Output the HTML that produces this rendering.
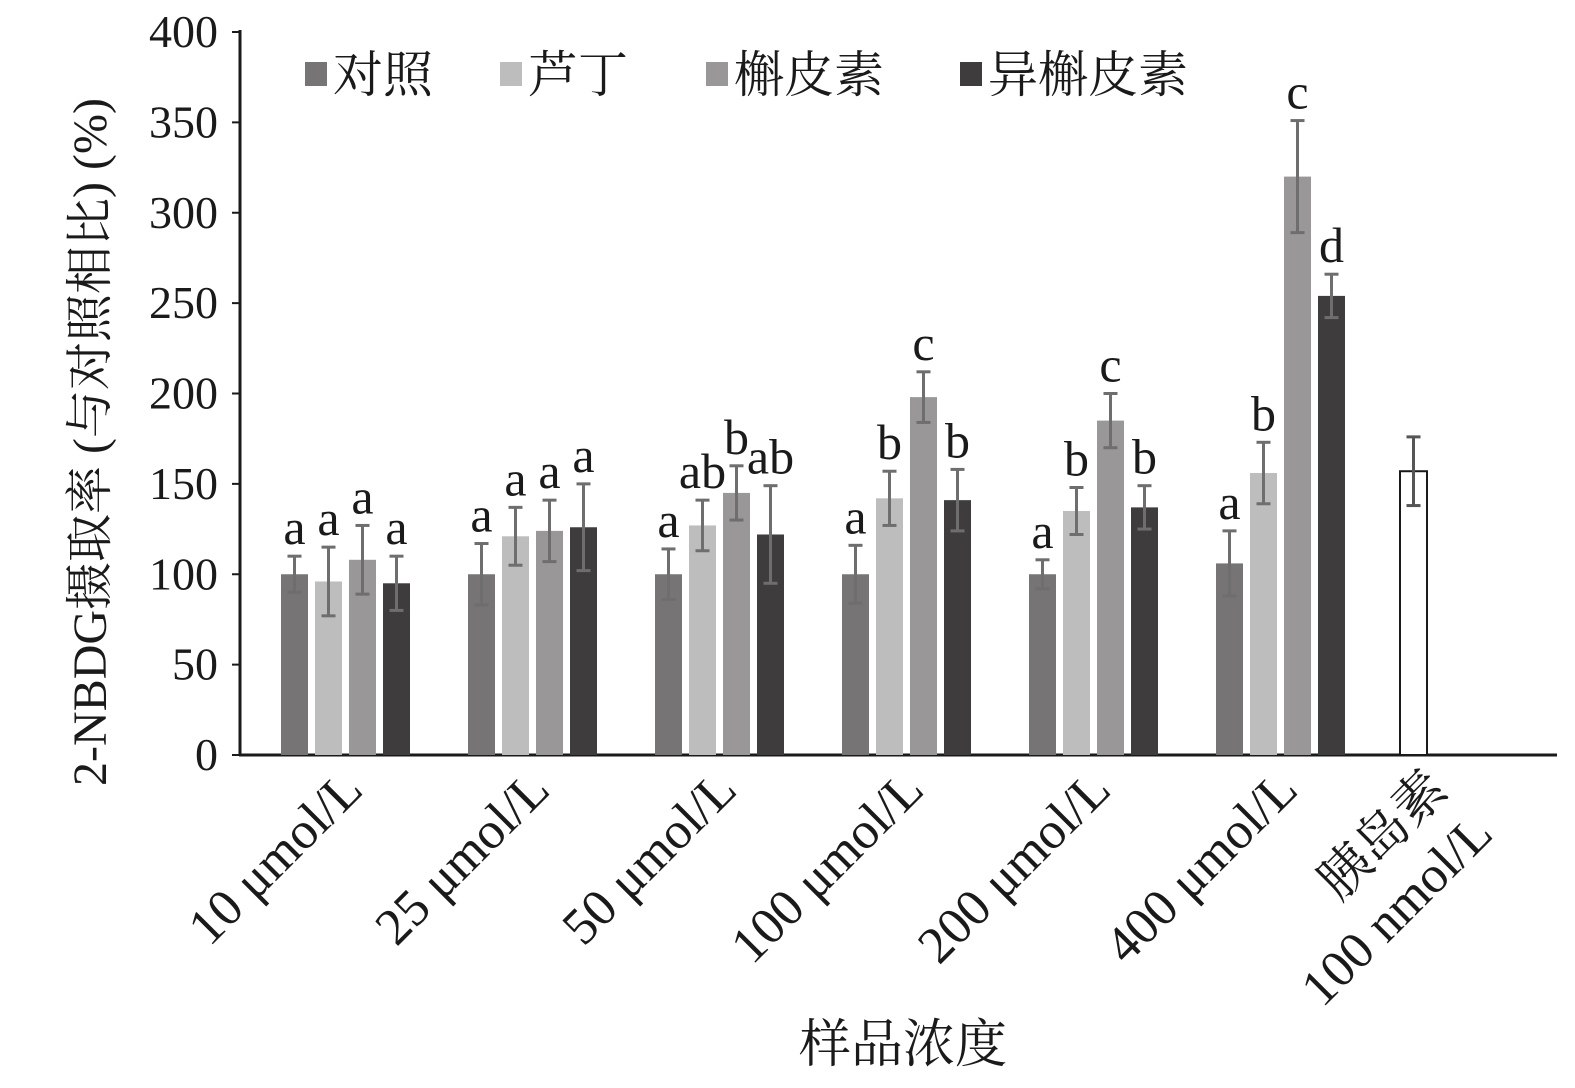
<!DOCTYPE html>
<html><head><meta charset="utf-8"><style>
body{margin:0;background:#fff}
svg text{font-family:"Liberation Serif","Noto Serif CJK SC",serif;fill:#1a1a1a}
</style></head><body>
<svg id="chart" width="1575" height="1083">
</svg>
<script>
const categories=["10 μmol/L","25 μmol/L","50 μmol/L","100 μmol/L","200 μmol/L","400 μmol/L"];
const seriesNames=["对照","芦丁","槲皮素","异槲皮素"];
const control=[100,100,100,100,100,106];
const controlErr=[10,17,14,16,8,18];
const rutin=[96,121,127,142,135,156];
const rutinErr=[19,16,14,15,13,17];
const quercetin=[108,124,145,198,185,320];
const quercetinErr=[19,17,15,14,15,31];
const isoquercetin=[95,126,122,141,137,254];
const isoquercetinErr=[15,24,27,17,12,12];
const letters=[["a","a","a","a"],["a","a","a","a"],["a","ab","b","ab"],["a","b","c","b"],["a","b","c","b"],["a","b","c","d"]];
const insulinValue=157, insulinErr=19;
const yTicks=[0,50,100,150,200,250,300,350,400];
const colors=["#767474","#bdbdbd","#999797","#3e3c3d"];
const NS="http://www.w3.org/2000/svg";
const svg=document.getElementById("chart");
const y=v=>755-v*(723/400);
const gx=i=>281+i*187;
function mk(tag,attrs,parent){const e=document.createElementNS(NS,tag);for(const k in attrs)e.setAttribute(k,attrs[k]);(parent||svg).appendChild(e);return e;}
let ax=mk("line",{x1:240,y1:30,x2:240,y2:756,stroke:"#1a1a1a","stroke-width":3});


let xa=mk("line",{x1:239,y1:755,x2:1557,y2:755,stroke:"#1a1a1a","stroke-width":3});


yTicks.forEach(t=>{
  let l=mk("line",{x1:232,x2:240,y1:y(t),y2:y(t),stroke:"#1a1a1a","stroke-width":2});
  
  
  let tx=mk("text",{x:218,y:y(t)+15,"text-anchor":"end","font-size":46});
  tx.textContent=t;
  
  
});
function bar(x,v,e,color,name,label){
  let r=mk("rect",{x:x,y:y(v),width:27,height:755-y(v),fill:color,stroke:color==="#fff"?"#1a1a1a":"none","stroke-width":2});
  
  
  const cx=x+13.5, ec=color==="#fff"?"#555":"#6e6e6e";
  let g=mk("g",{stroke:ec,"stroke-width":3});
  
  
  mk("line",{x1:cx,x2:cx,y1:y(v+e),y2:y(v-e)},g);
  mk("line",{x1:cx-7,x2:cx+7,y1:y(v+e),y2:y(v+e)},g);
  mk("line",{x1:cx-7,x2:cx+7,y1:y(v-e),y2:y(v-e)},g);
  if(label){let t=mk("text",{x:cx,y:y(v+e)-12,"text-anchor":"middle","font-size":50});t.textContent=label;
  
  }
}
const vals=[control,rutin,quercetin,isoquercetin], errs=[controlErr,rutinErr,quercetinErr,isoquercetinErr];
categories.forEach((c,i)=>{
  for(let s=0;s<4;s++) bar(gx(i)+s*34,vals[s][i],errs[s][i],colors[s],"bar-"+i+"-"+s,letters[i][s]);
  let t=mk("text",{x:gx(i)+84,y:792,"text-anchor":"end","font-size":52,transform:`rotate(-45 ${gx(i)+84} 792)`});
  t.textContent=c;
  
  
});
bar(1400,insulinValue,insulinErr,"#fff","bar-insulin",null);
let t1=mk("text",{x:1450,y:792,"text-anchor":"end","font-size":52,transform:"rotate(-45 1450 792)"});t1.textContent="胰岛素";


let t2=mk("text",{x:1495,y:836,"text-anchor":"end","font-size":52,transform:"rotate(-45 1495 836)"});t2.textContent="100 nmol/L";


const lx=[305,500,706,960];
seriesNames.forEach((n,i)=>{
  let g=mk("g",{});
  
  
  mk("rect",{x:lx[i],y:62,width:22,height:24,fill:colors[i]},g);
  let t=mk("text",{x:lx[i]+28,y:92,"font-size":50},g);t.textContent=n;
});
let yt=mk("text",{x:0,y:0,"text-anchor":"middle","font-size":48,transform:"translate(106 442) rotate(-90)"});
yt.textContent="2-NBDG摄取率 (与对照相比) (%)";


let xt=mk("text",{x:903,y:1062,"text-anchor":"middle","font-size":52});
xt.textContent="样品浓度";


</script>
</body></html>
